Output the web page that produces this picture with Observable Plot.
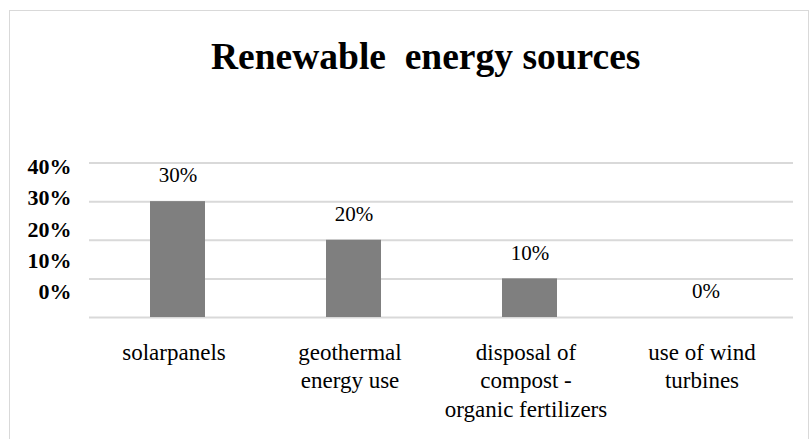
<!DOCTYPE html>
<html>
<head>
<meta charset="utf-8">
<script src="https://cdn.jsdelivr.net/npm/d3@7"></script>
<script src="https://cdn.jsdelivr.net/npm/@observablehq/plot@0.6"></script>
<style>
  html, body { margin: 0; padding: 0; background: #fff; }
  #wrap { position: relative; width: 811px; height: 439px; overflow: hidden; background: #fff; }
  #frame { position: absolute; left: 9px; top: 10px; width: 800px; height: 440px; border: 1px solid #d9d9d9; box-sizing: border-box; }
  #title { position: absolute; left: 211px; top: 38px; font-family: "Liberation Serif", "Times New Roman", serif; font-weight: bold; font-size: 37.5px; line-height: 37px; white-space: pre; color: #000; }
  #chart { position: absolute; left: 0; top: 100px; }
  #ylabels { position: absolute; left: 0; top: 100px; }
  #chart svg, #ylabels svg, #chart svg text, #ylabels svg text { font-family: "Liberation Serif", "Times New Roman", serif !important; }
</style>
</head>
<body>
<div id="wrap">
  <div id="frame"></div>
  <div id="title">Renewable  energy sources</div>
  <div id="chart"></div>
  <div id="ylabels"></div>
</div>
<script>
const categories = ["solarpanels", "geothermal energy use", "disposal of compost - organic fertilizers", "use of wind turbines"];
const categoryLabels = ["solarpanels", "geothermal\nenergy use", "disposal of\ncompost -\norganic fertilizers", "use of wind\nturbines"];
const values = [30, 20, 10, 0];
const valueLabels = ["30%", "20%", "10%", "0%"];
const yTicks = [0, 10, 20, 30, 40];
const yTickLabels = ["0%", "10%", "20%", "30%", "40%"];

const data = categories.map((c, i) => ({cat: c, value: values[i], label: valueLabels[i]}));
const labelOf = new Map(categories.map((c, i) => [c, categoryLabels[i]]));
const tickLabelOf = new Map(yTicks.map((t, i) => [t, yTickLabels[i]]));

const font = "Liberation Serif";
const styleStr = "font-family: 'Liberation Serif', 'Times New Roman', serif; font-size: 22px; color: #000; background: transparent; overflow: visible;";

const chart = Plot.plot({
  width: 811,
  height: 339,
  marginTop: 62.5,
  marginBottom: 122,
  marginLeft: 89,
  marginRight: 18,
  style: styleStr,
  x: {domain: categories, paddingInner: 0.6875, paddingOuter: 0.34375, align: 0.5, label: null, axis: null},
  y: {domain: [0, 40], label: null, axis: null},
  marks: [
    Plot.gridY(yTicks, {stroke: "#d9d9d9", strokeOpacity: 1, strokeWidth: 2}),
    Plot.barY(data, {x: "cat", y: "value", fill: "#7f7f7f"}),
    Plot.text(data, {x: "cat", y: "value", text: "label", dy: -26, fontSize: 21, fontFamily: font, fill: "#000"}),
    Plot.axisX({tickSize: 0, tickPadding: 23, dx: -4, tickFormat: d => labelOf.get(d), fontSize: 23, fontFamily: font, lineHeight: 1.22, label: null, fill: "#000"})
  ]
});
document.getElementById("chart").appendChild(chart);

const ylab = Plot.plot({
  width: 100,
  height: 339,
  marginTop: 66.7,
  marginBottom: 147.3,
  marginLeft: 71,
  marginRight: 0,
  style: styleStr,
  y: {domain: [0, 40], label: null, axis: null},
  marks: [
    Plot.axisY(yTicks, {tickSize: 0, tickPadding: 0, tickFormat: d => tickLabelOf.get(d), fontWeight: "bold", fontSize: 22, fontFamily: font, label: null, fill: "#000"})
  ]
});
document.getElementById("ylabels").appendChild(ylab);
</script>
</body>
</html>
